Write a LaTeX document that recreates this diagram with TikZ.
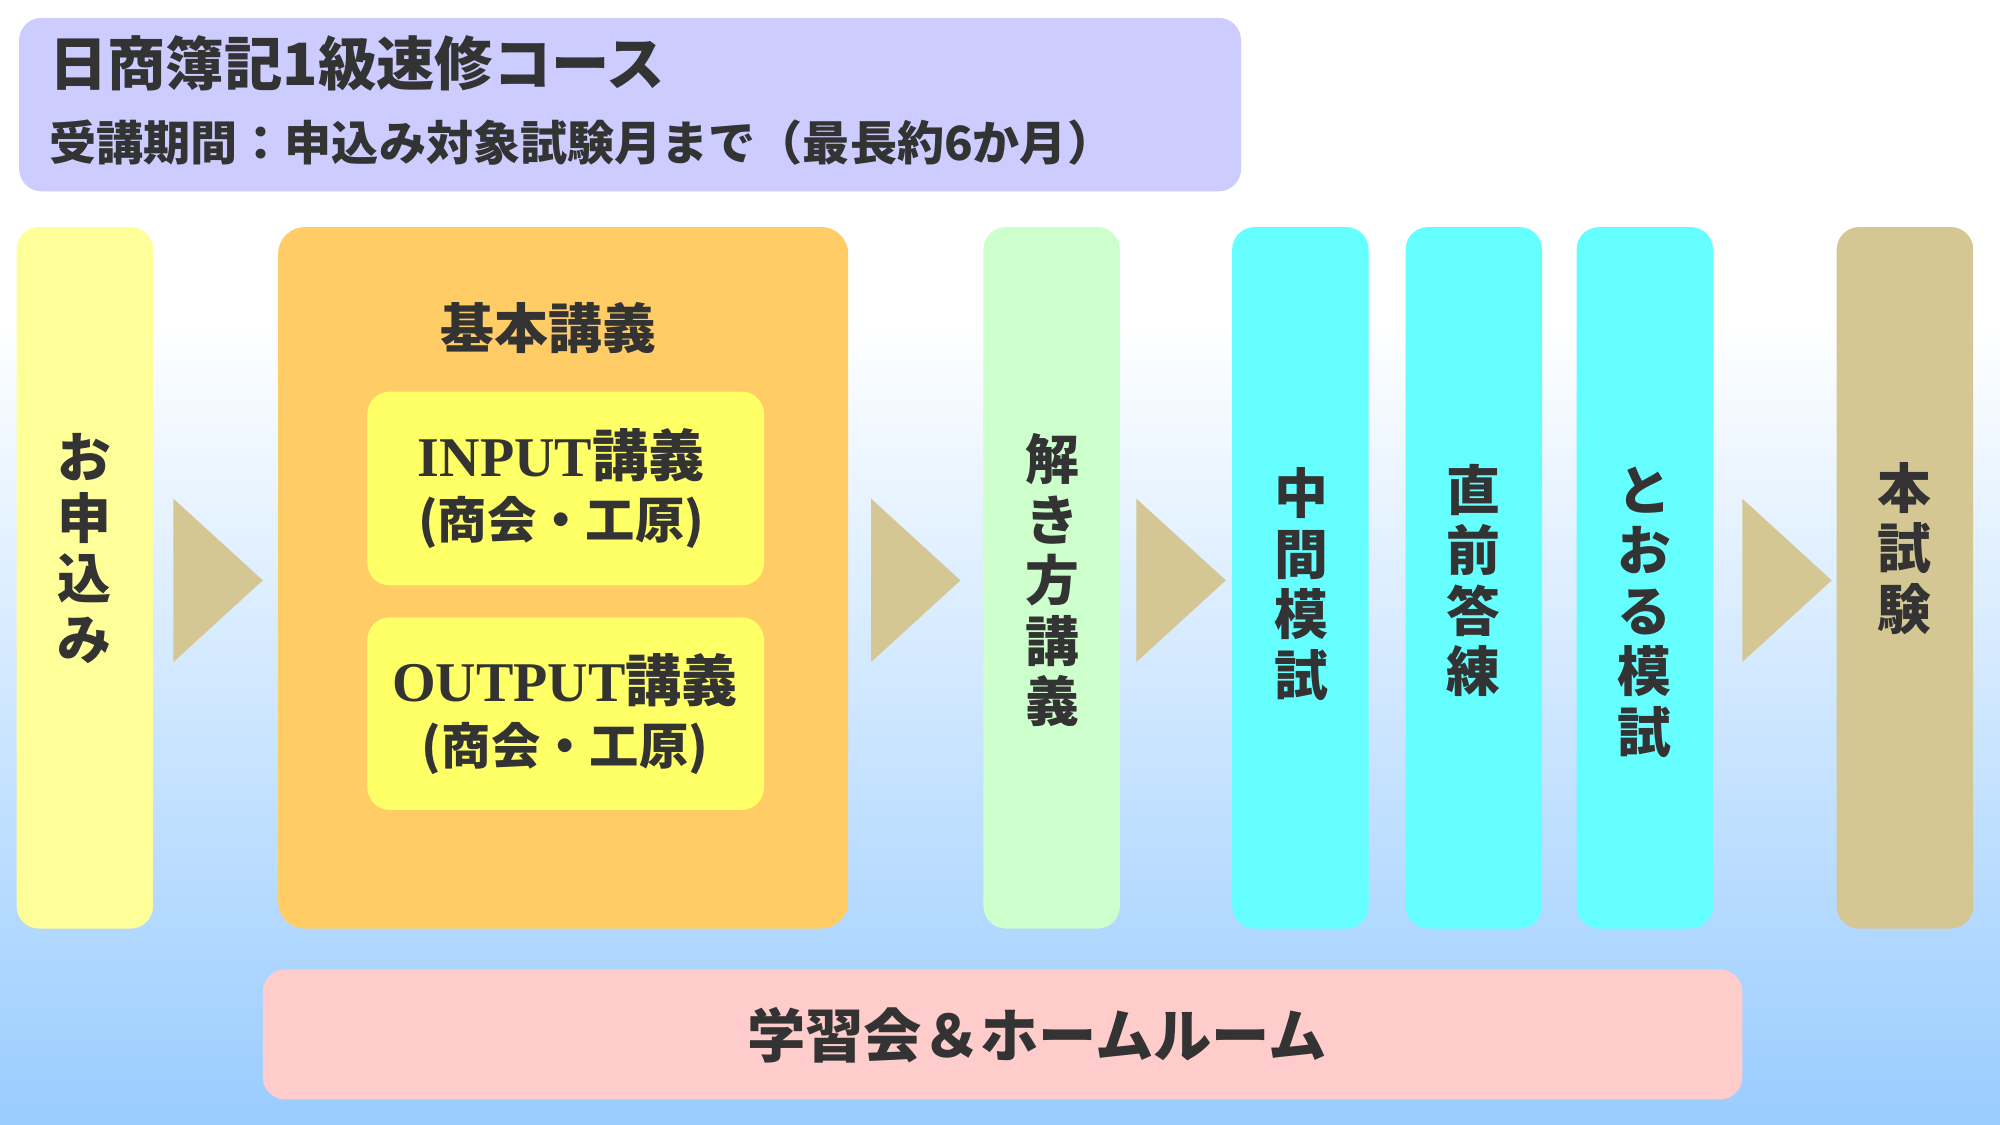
\documentclass[tikz,border=0pt]{standalone}
\usepackage{fontspec}
\setmainfont{Liberation Serif}
\newfontfamily\jp{Noto Sans CJK JP}
\usetikzlibrary{calc}
\definecolor{titlebg}{HTML}{CCCCFF}
\definecolor{paleyel}{HTML}{FFFF99}
\definecolor{basicor}{HTML}{FFCC66}
\definecolor{innery}{HTML}{FFFF66}
\definecolor{tanarr}{HTML}{D4C794}
\definecolor{palegrn}{HTML}{CCFFCC}
\definecolor{cyanbox}{HTML}{66FFFF}
\definecolor{pinkbar}{HTML}{FFCCCC}
\definecolor{txt}{HTML}{333333}
\tikzset{
  panel/.style={rounded corners=5pt},
  vlabel/.style={font=\jp\bfseries\fontsize{12}{13.5}\selectfont, align=center, text=txt},
  boxlabel/.style={font=\bfseries\fontsize{12.5}{14}\selectfont, align=center, text=txt},
}
\begin{document}
\begin{tikzpicture}[x=0.01cm,y=-0.01cm]

    \useasboundingbox (0,0) rectangle (1568,882);
    \shade[top color=white, bottom color={rgb,255:red,153;green,204;blue,255}] (0,250) rectangle (1568,882);
    \fill[white] (0,0) rectangle (1568,250);

    % title
    \fill[titlebg, panel] (15,14) rectangle (973,150);
    \node[anchor=west, inner sep=0pt, text=txt, font=\jp\bfseries\fontsize{13}{15}\selectfont] (title) at (38,50) {日商簿記1級速修コース};
    \node[anchor=west, inner sep=0pt, text=txt, font=\jp\bfseries\fontsize{10.5}{12}\selectfont] (period) at (38,112) {受講期間：申込み対象試験月まで（最長約6か月）};

    % columns
    \fill[paleyel, panel] (13,178) rectangle (120,728);
    \node[vlabel] (apply) at (66,430) {お\\申\\込\\み};

    \fill[basicor, rounded corners=6pt] (218,178) rectangle (665,728);
    \node[vlabel] (basic) at (430,257) {基本講義};
    \fill[innery, panel] (288,307) rectangle (599,459);
    \node[boxlabel] (input) at (440,383) {INPUT{\jp 講義}\\{\jp\fontsize{11}{13}\selectfont (商会・工原)}};
    \fill[innery, panel] (288,484) rectangle (599,635);
    \node[boxlabel] (output) at (443,560) {OUTPUT{\jp 講義}\\{\jp\fontsize{11}{13}\selectfont (商会・工原)}};

    \fill[palegrn, panel] (771,178) rectangle (878,728);
    \node[vlabel] (solve) at (825,455) {解\\き\\方\\講\\義};
    \fill[cyanbox, panel] (966,178) rectangle (1073,728);
    \node[vlabel] (mid) at (1020,458) {中\\間\\模\\試};
    \fill[cyanbox, panel] (1102,178) rectangle (1209,728);
    \node[vlabel] (drill) at (1155,455) {直\\前\\答\\練};
    \fill[cyanbox, panel] (1236,178) rectangle (1343,728);
    \node[vlabel] (toru) at (1289,480) {と\\お\\る\\模\\試};
    \fill[tanarr, panel] (1440,178) rectangle (1547,728);
    \node[vlabel] (exam) at (1493,430) {本\\試\\験};

    % arrows
    \foreach \ax in {136,683,891,1366}
        \fill[tanarr] (\ax,391) -- (\ax+70,455) -- (\ax,519) -- cycle;

    % bottom bar
    \fill[pinkbar, panel] (206,760) rectangle (1366,862);
    \node[text=txt, font=\jp\bfseries\fontsize{13}{15}\selectfont] (study) at (813,812) {学習会＆ホームルーム};

\end{tikzpicture}
\end{document}
